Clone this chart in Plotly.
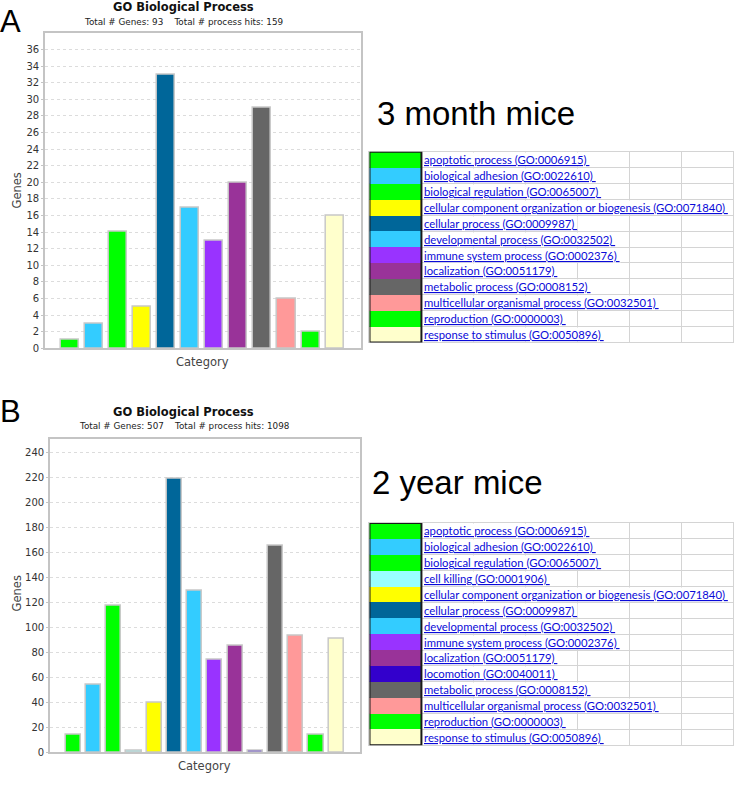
import plotly.graph_objects as go

W, H = 734, 789

# ---------------- data ----------------
categories_A = [
    "apoptotic process (GO:0006915)",
    "biological adhesion (GO:0022610)",
    "biological regulation (GO:0065007)",
    "cellular component organization or biogenesis (GO:0071840)",
    "cellular process (GO:0009987)",
    "developmental process (GO:0032502)",
    "immune system process (GO:0002376)",
    "localization (GO:0051179)",
    "metabolic process (GO:0008152)",
    "multicellular organismal process (GO:0032501)",
    "reproduction (GO:0000003)",
    "response to stimulus (GO:0050896)",
]
values_A = [1, 3, 14, 5, 33, 17, 13, 20, 29, 6, 2, 16]
colors_A = ["#00FF00", "#33CCFF", "#00FF00", "#FFFF00", "#006699", "#33CCFF",
            "#9933FF", "#993399", "#666666", "#FF9999", "#00FF00", "#FFFFCC"]

categories_B = [
    "apoptotic process (GO:0006915)",
    "biological adhesion (GO:0022610)",
    "biological regulation (GO:0065007)",
    "cell killing (GO:0001906)",
    "cellular component organization or biogenesis (GO:0071840)",
    "cellular process (GO:0009987)",
    "developmental process (GO:0032502)",
    "immune system process (GO:0002376)",
    "localization (GO:0051179)",
    "locomotion (GO:0040011)",
    "metabolic process (GO:0008152)",
    "multicellular organismal process (GO:0032501)",
    "reproduction (GO:0000003)",
    "response to stimulus (GO:0050896)",
]
values_B = [14, 54, 117, 1, 40, 219, 129, 74, 85, 1, 165, 93, 14, 91]
colors_B = ["#00FF00", "#33CCFF", "#00FF00", "#99FFFF", "#FFFF00", "#006699", "#33CCFF",
            "#9933FF", "#993399", "#3300CC", "#666666", "#FF9999", "#00FF00", "#FFFFCC"]

ticks_A = list(range(0, 37, 2))
ticks_B = list(range(0, 241, 20))

title_text = "GO Biological Process"
subtitle_A = "Total # Genes: 93    Total # process hits: 159"
subtitle_B = "Total # Genes: 507    Total # process hits: 1098"
label_A = "3 month mice"
label_B = "2 year mice"

# ---------------- helpers ----------------
def px_x(p):
    return p / W

def px_y(p):
    return 1 - p / H

CHART_FONT = "DejaVu Sans"
LINK_FONT = "Liberation Sans Narrow, Lato"
BIG_FONT = "Liberation Sans"

fig = go.Figure()

# bar charts
fig.add_trace(go.Bar(x=categories_A, y=values_A, marker=dict(color=colors_A, line=dict(color="#c8c8c8", width=1.5)),
                     width=0.75, xaxis="x", yaxis="y", showlegend=False))
fig.add_trace(go.Bar(x=categories_B, y=values_B, marker=dict(color=colors_B, line=dict(color="#c8c8c8", width=1.5)),
                     width=0.75, xaxis="x2", yaxis="y2", showlegend=False))

# legend tables (colour column as horizontal bars)
rows_A = [i + 0.5 for i in range(len(categories_A))]
rows_B = [i + 0.5 for i in range(len(categories_B))]
fig.add_trace(go.Bar(y=rows_A, x=[1] * len(rows_A), base=0, orientation="h", width=1,
                     marker=dict(color=colors_A, line=dict(width=0)), xaxis="x3", yaxis="y3", showlegend=False))
fig.add_trace(go.Bar(y=rows_B, x=[1] * len(rows_B), base=0, orientation="h", width=1,
                     marker=dict(color=colors_B, line=dict(width=0)), xaxis="x4", yaxis="y4", showlegend=False))

axis_common = dict(showline=True, mirror=True, linecolor="#c4c4c4", linewidth=1.5)
xbar = dict(showticklabels=False, ticks="", showgrid=False, zeroline=False, type="category", **axis_common)
ybar = dict(showgrid=True, gridcolor="#dcdcdc", griddash="dot", gridwidth=1, zeroline=False,
            ticks="outside", ticklen=2, tickcolor="#c4c4c4",
            tickfont=dict(family=CHART_FONT, size=10, color="#333333"), **axis_common)

n_A, n_B = len(categories_A), len(categories_B)
table_x = dict(range=[0, 7], showticklabels=False, ticks="", showgrid=True, gridcolor="#d4d4d4",
               gridwidth=1, tick0=0, dtick=1, zeroline=False, showline=True, mirror=True,
               linecolor="#d4d4d4", linewidth=1, fixedrange=True)
table_y = dict(showticklabels=False, ticks="", showgrid=True, gridcolor="#d4d4d4", gridwidth=1,
               tick0=0, dtick=1, zeroline=False, showline=True, mirror=True, linecolor="#d4d4d4",
               linewidth=1, fixedrange=True)

fig.update_layout(
    width=W, height=H,
    margin=dict(l=0, r=0, t=0, b=0),
    paper_bgcolor="white", plot_bgcolor="white",
    bargap=0,
    xaxis=dict(domain=[px_x(45), px_x(361)], range=[-1.04, n_A - 1 + 1.08], anchor="y", **xbar),
    yaxis=dict(domain=[px_y(351), px_y(33)], range=[0, 38.03], tickvals=ticks_A, anchor="x", **ybar),
    xaxis2=dict(domain=[px_x(50), px_x(360)], range=[-1.16, n_B - 1 + 1.16], anchor="y2", **xbar),
    yaxis2=dict(domain=[px_y(758), px_y(442)], range=[0, 250.9], tickvals=ticks_B, anchor="x2", **ybar),
    xaxis3=dict(domain=[px_x(370), 1], anchor="y3", **table_x),
    yaxis3=dict(domain=[px_y(345), px_y(153)], range=[n_A, 0], anchor="x3", **table_y),
    xaxis4=dict(domain=[px_x(370), 1], anchor="y4", **table_x),
    yaxis4=dict(domain=[px_y(751), px_y(527)], range=[n_B, 0], anchor="x4", **table_y),
)

# black border around the colour column
for xr, yr, n in (("x3", "y3", n_A), ("x4", "y4", n_B)):
    fig.add_shape(type="rect", xref=xr, yref=yr, x0=0, x1=1, y0=0, y1=n,
                  line=dict(color="#1a1a1a", width=2), fillcolor="rgba(0,0,0,0)", layer="above")

ann = []
# legend text
for cats, rows, xr, yr in ((categories_A, rows_A, "x3", "y3"), (categories_B, rows_B, "x4", "y4")):
    for c, r in zip(cats, rows):
        ann.append(dict(xref=xr, yref=yr, x=1, y=r, xanchor="left", yanchor="middle", xshift=2,
                        text='<span style="text-decoration:underline">' + c + "&nbsp;</span>",
                        showarrow=False, bgcolor="white", borderpad=0,
                        font=dict(family=LINK_FONT, size=11.3, color="#0a0ad8")))

# titles
for cx, ty, sy, sub in ((183.5, 7.5, 22, subtitle_A), (184, 415, 429, subtitle_B)):
    ann.append(dict(xref="paper", yref="paper", x=px_x(cx), y=px_y(ty), xanchor="center", yanchor="middle",
                    text="<b>" + title_text + "</b>", showarrow=False,
                    font=dict(family=CHART_FONT, size=11.5, color="#111111")))
    ann.append(dict(xref="paper", yref="paper", x=px_x(cx), y=px_y(sy), xanchor="center", yanchor="middle",
                    text=sub, showarrow=False, font=dict(family=CHART_FONT, size=8.8, color="#222222")))

# axis titles
for cx, cy in ((203, 365), (205, 772)):
    ann.append(dict(xref="paper", yref="paper", x=px_x(cx), y=px_y(cy), xanchor="center", yanchor="middle",
                    text="Category", showarrow=False, font=dict(family=CHART_FONT, size=11.5, color="#444444")))
for gx, gy in ((17, 192), (17, 598)):
    ann.append(dict(xref="paper", yref="paper", x=px_x(gx), y=px_y(gy), xanchor="center", yanchor="middle",
                    text="Genes", textangle=-90, showarrow=False,
                    font=dict(family=CHART_FONT, size=11.5, color="#444444")))

# panel letters
for letter, ly in (("A", 22), ("B", 415)):
    ann.append(dict(xref="paper", yref="paper", x=0, y=px_y(ly), xanchor="left", yanchor="middle", xshift=-2,
                    text=letter, showarrow=False, font=dict(family=BIG_FONT, size=31, color="black")))

# panel labels
for txt, lx, ly in ((label_A, 376, 114), (label_B, 371, 486)):
    ann.append(dict(xref="paper", yref="paper", x=px_x(lx), y=px_y(ly), xanchor="left", yanchor="middle",
                    text=txt, showarrow=False, font=dict(family=BIG_FONT, size=33, color="black")))

fig.update_layout(annotations=ann)

fig.write_html("out.html", config={"displayModeBar": False},
               post_script="document.body.style.margin='0';document.body.style.overflow='hidden';")
